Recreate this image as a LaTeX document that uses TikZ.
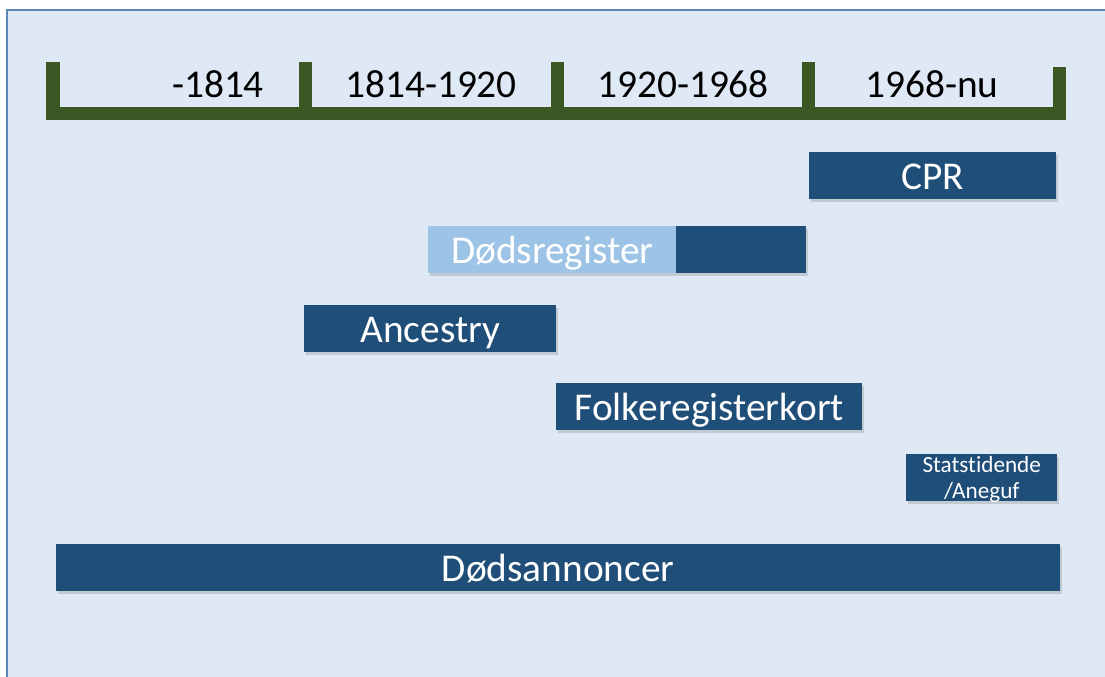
\documentclass[tikz,border=0pt]{standalone}
\usepackage{fontspec}
\setmainfont{Carlito}[Ligatures=NoCommon]
\usetikzlibrary{positioning,shadows}
\definecolor{panelfill}{HTML}{DEE9F5}
\definecolor{panelline}{HTML}{5B87B8}
\definecolor{axisgreen}{HTML}{3B5724}
\definecolor{bardark}{HTML}{1F4E79}
\definecolor{barlight}{HTML}{9DC3E6}

\begin{document}
\begin{tikzpicture}[
    x=0.025cm, y=-0.025cm,
    axis/.style={line width=0.325cm, axisgreen},
    period/.style={anchor=base, font=\fontsize{28}{32}\selectfont},
    bar/.style={rectangle, fill=bardark, text=white, inner sep=0pt, anchor=north west,
        minimum height=1.175cm, text height=25pt, text depth=5.8pt,
        font=\fontsize{28}{32}\selectfont},
    lifted/.style={drop shadow={shadow xshift=1pt, shadow yshift=-2pt, opacity=0.3}}
]
    \useasboundingbox (0,0) rectangle (1105,677);
    \draw[panelline, fill=panelfill, line width=0.05cm] (7,10) rectangle (1125,700);

    % Timeline
    \draw[axis] (53,62) -- (53,113.5) -- (1059,113.5) -- (1059,67);
    \foreach \x in {305,557,808} {
        \draw[axis] (\x,62) -- (\x,113.5);
    }
    \foreach \x/\txt in {218/-1814, 431/1814-1920, 683/1920-1968, 932/1968-nu} {
        \node[period] at (\x,97) {\txt};
    }

    % Sources
    \node[bar, lifted, minimum width=247*0.025cm] (cpr) at (809,152) {CPR};
    \node[bar, lifted, minimum width=378*0.025cm] (dodsreg) at (428,226) {};
    \node[bar, fill=barlight, minimum width=248*0.025cm] (dodsregtxt) at (428,226) {Dødsregister};
    \node[bar, lifted, minimum width=252*0.025cm] (ancestry) at (304,305) {Ancestry};
    \node[bar, lifted, minimum width=306*0.025cm] (folkereg) at (556,383) {Folkeregisterkort};
    \node[bar, lifted, minimum width=151*0.025cm, align=center, text height=31pt, text depth=1pt,
        font=\fontsize{16.5}{18.5}\selectfont] (statstid) at (906,454) {Statstidende\\/Aneguf};
    \node[bar, lifted, minimum width=1004*0.025cm] (annoncer) at (56,544) {Dødsannoncer};
\end{tikzpicture}
\end{document}
